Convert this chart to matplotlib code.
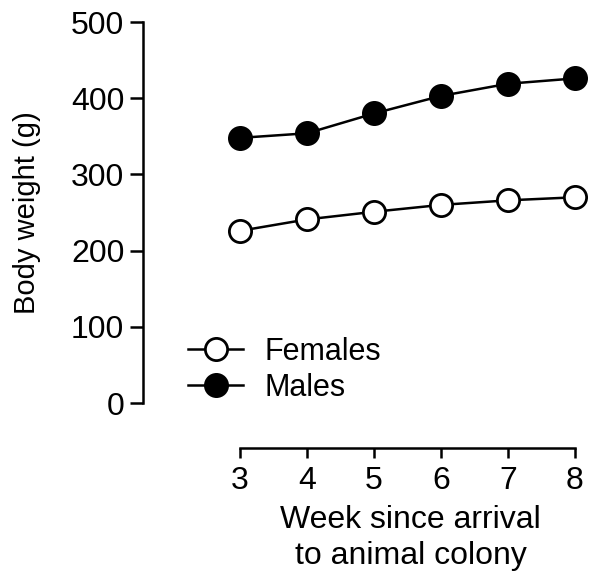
import matplotlib
matplotlib.use("Agg")
import matplotlib.pyplot as plt
import matplotlib.transforms as mtransforms

plt.rcParams['font.family'] = ['Liberation Sans', 'DejaVu Sans']

weeks = [3, 4, 5, 6, 7, 8]
females = [226, 241, 251, 260, 266, 270]
males = [348, 354, 380, 403, 419, 426]
y_ticks = [0, 100, 200, 300, 400, 500]

fig = plt.figure(figsize=(5.9, 5.78), dpi=100)
ax = fig.add_axes([0.2424, 0.2249, 0.749, 0.737])

ax.plot(weeks, females, '-o', color='black', lw=1.8, ms=16, mfc='white',
        mec='black', mew=2.0, label='Females', clip_on=False, zorder=3)
ax.plot(weeks, males, '-o', color='black', lw=1.8, ms=16, mfc='black',
        mec='black', mew=2.0, label='Males', clip_on=False, zorder=3)

ax.set_xlim(1.55, 8.15)
ax.set_ylim(-59, 500)
ax.set_xticks(weeks)
ax.set_yticks(y_ticks)

for s in ['top', 'right']:
    ax.spines[s].set_visible(False)
ax.spines['left'].set_bounds(0, 500)
ax.spines['bottom'].set_bounds(3, 8)
ax.spines['left'].set_linewidth(1.8)
ax.spines['bottom'].set_linewidth(1.8)
ax.tick_params(axis='y', length=9.5, width=1.8, pad=4, labelsize=23)
ax.tick_params(axis='x', length=7, width=1.8, pad=6, labelsize=23)

ax.text(-0.262, 0.552, 'Body weight (g)', transform=ax.transAxes, rotation=90,
        ha='center', va='center', fontsize=21)
trans = mtransforms.blended_transform_factory(ax.transData, fig.transFigure)
ax.text(5.55, 1 - 538 / 578, 'Week since arrival\nto animal colony', transform=trans,
        ha='center', va='center', fontsize=23, linespacing=1.25)

ax.legend(loc='center left', bbox_to_anchor=(0.04, 0.183), frameon=False,
          fontsize=22, handlelength=1.8, handletextpad=0.7, labelspacing=0.2)

fig.savefig('out.png', dpi=100)
